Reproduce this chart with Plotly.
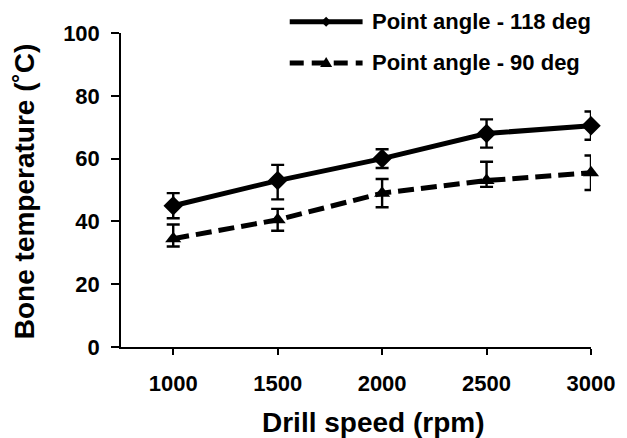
import plotly.graph_objects as go

# ---- data ----
speeds = [1000, 1500, 2000, 2500, 3000]
temp_118 = [45, 53, 60, 68, 70.5]
err_118_plus = [4, 5, 3, 4.5, 4.5]
err_118_minus = [4, 6, 3, 4.5, 4.5]
temp_90 = [34.5, 40.5, 49, 53, 55.5]
err_90_plus = [4.5, 3.5, 4.5, 6, 5.5]
err_90_minus = [2.5, 3.5, 4.5, 2, 5.5]
series_names = ["Point angle - 118 deg", "Point angle - 90 deg"]
x_title = "Drill speed (rpm)"
y_title = "Bone temperature (˚C)"
y_ticks = [0, 20, 40, 60, 80, 100]

FONT = "Liberation Sans, Arial, sans-serif"

fig = go.Figure()

fig.add_trace(go.Scatter(
    x=speeds, y=temp_118, name=series_names[0], mode="lines+markers",
    line=dict(color="black", width=5),
    marker=dict(symbol="diamond", size=15, color="black"),
    error_y=dict(type="data", array=err_118_plus, arrayminus=err_118_minus,
                 color="black", thickness=2.4, width=6.5),
    cliponaxis=False, showlegend=False,
))
fig.add_trace(go.Scatter(
    x=speeds, y=temp_90, name=series_names[1], mode="lines+markers",
    line=dict(color="black", width=5, dash="16px,7px"),
    marker=dict(symbol="triangle-up", size=14, color="black"),
    error_y=dict(type="data", array=err_90_plus, arrayminus=err_90_minus,
                 color="black", thickness=2.4, width=6.5),
    cliponaxis=False, showlegend=False,
))

# ---- manual legend (line samples + text) ----
leg_x0, leg_x1 = 0.359, 0.514
leg_y = [1.036, 0.9045]
shapes = [
    dict(type="line", xref="paper", yref="paper", x0=leg_x0, x1=leg_x1,
         y0=leg_y[0], y1=leg_y[0], line=dict(color="black", width=5)),
    dict(type="line", xref="paper", yref="paper", x0=leg_x0, x1=leg_x1,
         y0=leg_y[1], y1=leg_y[1], line=dict(color="black", width=5, dash="14px,8px")),
    dict(type="path", xref="paper", yref="paper", xsizemode="pixel", ysizemode="pixel",
         xanchor=(leg_x0 + leg_x1) / 2, yanchor=leg_y[0],
         path="M-5,0 L0,5 L5,0 L0,-5 Z", fillcolor="black", line=dict(width=0)),
    dict(type="path", xref="paper", yref="paper", xsizemode="pixel", ysizemode="pixel",
         xanchor=(leg_x0 + leg_x1) / 2, yanchor=leg_y[1],
         path="M-6,-4 L6,-4 L0,6 Z", fillcolor="black", line=dict(width=0)),
]
annotations = [
    dict(text=series_names[0], xref="paper", yref="paper", x=0.530, y=leg_y[0],
         xanchor="left", yanchor="middle", showarrow=False,
         font=dict(family=FONT, size=22, color="black", weight="bold")),
    dict(text=series_names[1], xref="paper", yref="paper", x=0.530, y=leg_y[1],
         xanchor="left", yanchor="middle", showarrow=False,
         font=dict(family=FONT, size=22, color="black", weight="bold")),
    dict(text=x_title, xref="paper", yref="paper", x=0.5365, y=-0.242,
         xanchor="center", yanchor="middle", showarrow=False,
         font=dict(family=FONT, size=28, color="black", weight="bold")),
    dict(text=y_title, xref="paper", yref="paper", x=-0.205, y=0.495,
         xanchor="center", yanchor="middle", showarrow=False, textangle=-90,
         font=dict(family=FONT, size=28, color="black", weight="bold")),
]

fig.update_layout(
    width=627, height=438,
    margin=dict(l=121, r=27, t=33, b=91),
    paper_bgcolor="white", plot_bgcolor="white",
    font=dict(family=FONT, color="black"),
    shapes=shapes, annotations=annotations,
    showlegend=False,
)
fig.update_xaxes(
    range=[750, 3000], tickvals=speeds, ticktext=[str(s) for s in speeds],
    showline=True, linecolor="black", linewidth=1.5, showgrid=False, zeroline=False,
    ticks="outside", ticklen=6, tickwidth=1.5, tickcolor="black",
    ticklabelstandoff=10,
    tickfont=dict(family=FONT, size=22, color="black", weight="bold"),
)
fig.update_yaxes(
    range=[0, 100], tickvals=y_ticks,
    showline=True, linecolor="black", linewidth=1.5, showgrid=False, zeroline=False,
    ticks="outside", ticklen=8, tickwidth=1.5, tickcolor="black",
    ticklabelstandoff=7,
    tickfont=dict(family=FONT, size=22, color="black", weight="bold"),
)

fig.write_html("out.html", config={"displayModeBar": False},
               post_script="document.body.style.margin='0';")
